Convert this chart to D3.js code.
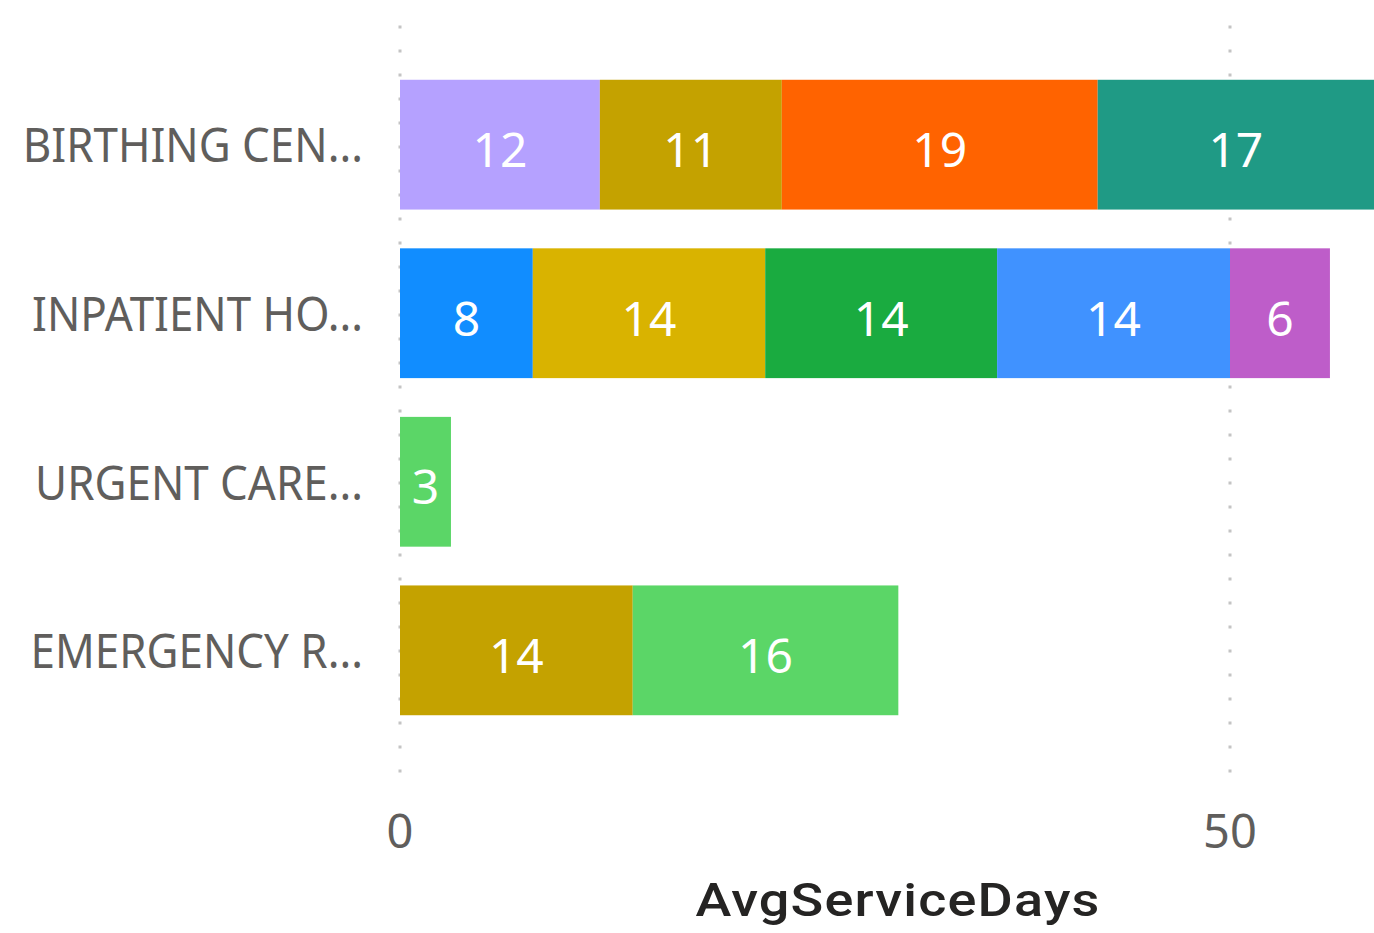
<!DOCTYPE html>
<meta charset="UTF-8">
<style>
body { margin: 0; background: #fff; }
.grid line { stroke: #c4c4c4; stroke-width: 3px; stroke-dasharray: 3 21; }
.cat { font: 48px "Noto Sans", sans-serif; fill: #605e5c; }
.tick-label { font: 47px "Noto Sans", sans-serif; fill: #605e5c; }
.val { font: 48px "Noto Sans", sans-serif; fill: #fff; }
.axis-title { font: 500 46px Roboto, sans-serif; fill: #252423; letter-spacing: 1px; }
</style>
<body>
<script src="https://d3js.org/d3.v7.min.js"></script>
<script>

// categories (truncated as shown on the chart)
var categories = ["BIRTHING CEN...", "INPATIENT HO...", "URGENT CARE...", "EMERGENCY R..."];

// series (one per colour seen in the chart)
var series = ["S1", "S2", "S3", "S4", "S5", "S6", "S7", "S8", "S9", "S10"];
var palette = ["#B5A1FF", "#C4A200", "#FF6300", "#1F9A85", "#118DFF",
               "#D9B300", "#1AAB40", "#4092FF", "#BE5DC9", "#5BD667"];

// segments per category, in stacking order
var birthingSeries = ["S1", "S2", "S3", "S4"];
var birthingValues = [12.04, 10.96, 19.03, 17.0];
var inpatientSeries = ["S5", "S6", "S7", "S8", "S9"];
var inpatientValues = [8.0, 14.0, 13.97, 14.03, 6.02];
var urgentSeries = ["S10"];
var urgentValues = [3.07];
var emergencySeries = ["S2", "S10"];
var emergencyValues = [14.02, 16.0];

var xTicks = [0, 50];
var axisTitle = "AvgServiceDays";

var segs = [
  [birthingSeries, birthingValues],
  [inpatientSeries, inpatientValues],
  [urgentSeries, urgentValues],
  [emergencySeries, emergencyValues]
];

var width = 1374, height = 933;

var svg = d3.select("body").append("svg")
    .attr("width", width)
    .attr("height", height);

var x = d3.scaleLinear().domain([0, 50]).range([400, 1230]);
var y = d3.scaleBand().domain(categories).range([41, 754])
    .paddingInner(0.23).paddingOuter(0.23);
var color = d3.scaleOrdinal().domain(series).range(palette);

// dotted gridlines
svg.append("g").attr("class", "grid")
  .selectAll("line").data(xTicks).join("line")
    .attr("x1", d => x(d)).attr("x2", d => x(d))
    .attr("y1", 25.5).attr("y2", 790);

// build stacked rows
var rows = [];
categories.forEach(function(c, i) {
  var acc = 0;
  segs[i][0].forEach(function(s, j) {
    var v = segs[i][1][j];
    rows.push({cat: c, series: s, value: v, x0: acc, x1: acc + v});
    acc += v;
  });
});

var bar = svg.append("g").selectAll("g").data(rows).join("g");

bar.append("rect")
    .attr("x", d => x(d.x0))
    .attr("width", d => x(d.x1) - x(d.x0))
    .attr("y", d => y(d.cat))
    .attr("height", y.bandwidth())
    .attr("fill", d => color(d.series));

bar.append("text")
    .attr("class", "val")
    .attr("text-anchor", "middle")
    .attr("x", d => (x(d.x0) + Math.min(x(d.x1), width)) / 2)
    .attr("y", d => y(d.cat) + y.bandwidth() / 2)
    .attr("dy", "0.47em")
    .text(d => Math.round(d.value));

// category labels (narrowed a bit to mimic Segoe UI proportions)
svg.append("g").selectAll("text").data(categories).join("text")
    .attr("class", "cat")
    .attr("text-anchor", "end")
    .attr("x", 363)
    .attr("y", d => y(d) + y.bandwidth() / 2)
    .attr("dy", "0.37em")
    .text(d => d)
    .each(function() {
      var len = this.getComputedTextLength();
      d3.select(this).attr("textLength", len * 0.915)
        .attr("lengthAdjust", "spacingAndGlyphs");
    });

// tick labels
svg.append("g").selectAll("text").data(xTicks).join("text")
    .attr("class", "tick-label")
    .attr("text-anchor", "middle")
    .attr("x", d => x(d))
    .attr("y", 848)
    .text(d => d);

svg.append("text")
    .attr("class", "axis-title")
    .attr("text-anchor", "middle")
    .attr("x", 898)
    .attr("y", 916)
    .attr("textLength", 405)
    .attr("lengthAdjust", "spacingAndGlyphs")
    .text(axisTitle);

</script>
</body>
